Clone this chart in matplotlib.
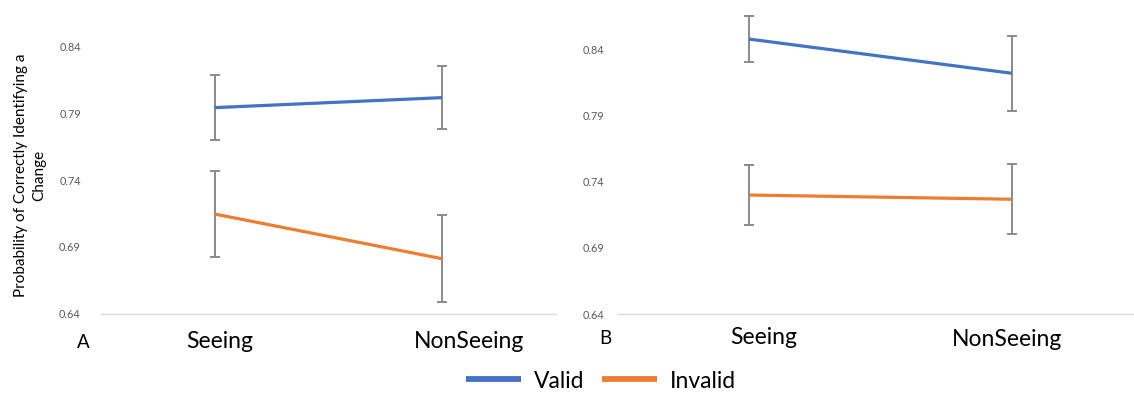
import matplotlib
matplotlib.use("Agg")
import matplotlib.pyplot as plt
from matplotlib.ticker import FormatStrFormatter

plt.rcParams['font.family'] = ['Lato', 'DejaVu Sans']

categories = ["Seeing", "NonSeeing"]
series = ["Valid", "Invalid"]
colors = {"Valid": "#4472C4", "Invalid": "#ED7D31"}

# Panel A
a_valid = [0.7944, 0.8019]
a_valid_err = [0.0245, 0.0238]
a_invalid = [0.7146, 0.6811]
a_invalid_err = [0.0323, 0.0328]

# Panel B
b_valid = [0.8475, 0.8217]
b_valid_err = [0.0174, 0.0282]
b_invalid = [0.7298, 0.7266]
b_invalid_err = [0.0229, 0.0263]

yticks = [0.64, 0.69, 0.74, 0.79, 0.84]

W, H = 1134, 395
fig = plt.figure(figsize=(W / 100, H / 100), dpi=100)


def px_axes(x0, x1, ybot):
    return fig.add_axes([x0 / W, (H - ybot) / H, (x1 - x0) / W, ybot / H])


axA = px_axes(101, 555.7, 313.5)
axB = px_axes(617.7, 1143, 314)

panels = [
    (axA, a_valid, a_valid_err, a_invalid, a_invalid_err, 0.64 + 313.5 / 1333.3, 14.5),
    (axB, b_valid, b_valid_err, b_invalid, b_invalid_err, 0.64 + 314 / 1325.0, 9.5),
]

xpos = [0.5, 1.5]
for ax, v, ve, iv, ive, ytop, pad in panels:
    for name, vals, errs in [("Valid", v, ve), ("Invalid", iv, ive)]:
        ax.errorbar(xpos, vals, yerr=errs, fmt='none', ecolor='#8a8a8a',
                    elinewidth=1.4, capsize=3.3, capthick=1.4, zorder=2)
        ax.plot(xpos, vals, color=colors[name], lw=2.3, label=name,
                solid_capstyle='butt', zorder=3)
    ax.set_xlim(0, 2)
    ax.set_ylim(0.64, ytop)
    ax.set_yticks(yticks)
    ax.yaxis.set_major_formatter(FormatStrFormatter('%.2f'))
    ax.tick_params(axis='y', length=0, labelsize=7.8, labelcolor='#595959', pad=pad)
    ax.set_xticks([])
    for s in ['top', 'right', 'left']:
        ax.spines[s].set_visible(False)
    ax.spines['bottom'].set_color('#D9D9D9')
    ax.spines['bottom'].set_linewidth(1.0)
    ax.patch.set_alpha(0)


def ftext(x, y, s, **kw):
    fig.text(x / W, 1 - y / H, s, **kw)


# category labels and panel letters
ftext(220, 341, categories[0], ha='center', va='center', fontsize=16.5)
ftext(469, 341, categories[1], ha='center', va='center', fontsize=16.5)
ftext(83, 342, "A", ha='center', va='center', fontsize=13.5)
ftext(764, 337, categories[0], ha='center', va='center', fontsize=16.5)
ftext(1007, 339, categories[1], ha='center', va='center', fontsize=16.5)
ftext(605, 338, "B", ha='center', va='center', fontsize=13.5)

# y label
ftext(30, 175, "Probability of Correctly Identifying a\nChange", ha='center',
      va='center', rotation=90, fontsize=11, linespacing=1.4)

handles, labels = axA.get_legend_handles_labels()
leg = fig.legend(handles, labels, loc='center', bbox_to_anchor=(601 / W, 1 - 381 / H),
                 ncol=2, frameon=False, fontsize=16.5, handlelength=2.4,
                 handletextpad=0.55, columnspacing=0.8)
for l in leg.get_lines():
    l.set_linewidth(4.2)

fig.savefig("out.png", dpi=100)
